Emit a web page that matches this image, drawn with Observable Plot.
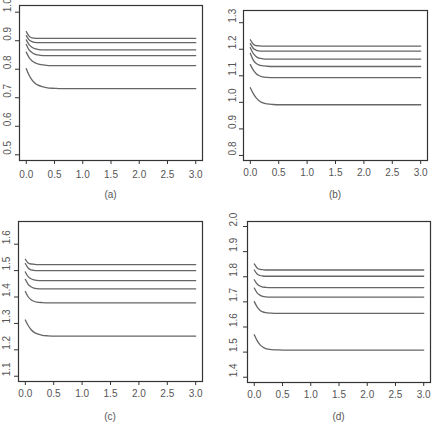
<!DOCTYPE html>
<html><head><meta charset="utf-8">
<script src="https://cdn.jsdelivr.net/npm/d3@7"></script>
<script src="https://cdn.jsdelivr.net/npm/@observablehq/plot@0.6"></script>
<style>
body{margin:0;background:#fff;font-family:"Liberation Sans",Arial,sans-serif;}
#root{position:relative;width:436px;height:424px;overflow:hidden;}
.panel{position:absolute;}
.cap{position:absolute;font-size:10px;line-height:12px;color:#555;text-align:center;width:60px;}
</style></head>
<body><div id="root"></div>
<script>
// shared x grid (time) at which curve values were read
const xGrid = [0, 0.05, 0.1, 0.15, 0.2, 0.3, 0.4, 0.5, 0.6, 0.8, 3.0];
const xTicks = [0, 0.5, 1, 1.5, 2, 2.5, 3];

// panel (a)
const a1 = [0.932, 0.916, 0.910, 0.909, 0.908, 0.908, 0.908, 0.908, 0.908, 0.908, 0.908];
const a2 = [0.918, 0.903, 0.897, 0.894, 0.893, 0.893, 0.893, 0.893, 0.893, 0.893, 0.893];
const a3 = [0.903, 0.886, 0.877, 0.872, 0.870, 0.868, 0.868, 0.868, 0.868, 0.868, 0.868];
const a4 = [0.887, 0.868, 0.859, 0.853, 0.850, 0.848, 0.848, 0.848, 0.848, 0.848, 0.848];
const a5 = [0.860, 0.841, 0.830, 0.823, 0.819, 0.815, 0.813, 0.813, 0.813, 0.813, 0.813];
const a6 = [0.802, 0.779, 0.763, 0.752, 0.745, 0.738, 0.734, 0.733, 0.732, 0.732, 0.732];
const aTicks = [0.5, 0.6, 0.7, 0.8, 0.9, 1.0];

// panel (b)
const b1 = [1.236, 1.220, 1.214, 1.213, 1.212, 1.212, 1.212, 1.212, 1.212, 1.212, 1.212];
const b2 = [1.221, 1.204, 1.197, 1.194, 1.193, 1.193, 1.193, 1.193, 1.193, 1.193, 1.193];
const b3 = [1.206, 1.185, 1.173, 1.167, 1.165, 1.163, 1.163, 1.163, 1.163, 1.163, 1.163];
const b4 = [1.185, 1.160, 1.147, 1.141, 1.138, 1.136, 1.135, 1.135, 1.135, 1.135, 1.135];
const b5 = [1.142, 1.122, 1.109, 1.101, 1.097, 1.094, 1.093, 1.093, 1.093, 1.093, 1.093];
const b6 = [1.055, 1.034, 1.018, 1.007, 1.000, 0.994, 0.992, 0.991, 0.991, 0.991, 0.991];
const bTicks = [0.8, 0.9, 1.0, 1.1, 1.2, 1.3];

// panel (c)
const c1 = [1.543, 1.529, 1.525, 1.524, 1.523, 1.523, 1.523, 1.523, 1.523, 1.523, 1.523];
const c2 = [1.527, 1.510, 1.503, 1.501, 1.500, 1.500, 1.500, 1.500, 1.500, 1.500, 1.500];
const c3 = [1.495, 1.477, 1.469, 1.465, 1.463, 1.462, 1.462, 1.462, 1.462, 1.462, 1.462];
const c4 = [1.467, 1.448, 1.439, 1.434, 1.432, 1.431, 1.431, 1.431, 1.431, 1.431, 1.431];
const c5 = [1.421, 1.401, 1.390, 1.384, 1.381, 1.379, 1.378, 1.378, 1.378, 1.378, 1.378];
const c6 = [1.313, 1.292, 1.277, 1.267, 1.261, 1.255, 1.253, 1.252, 1.252, 1.252, 1.252];
const cTicks = [1.1, 1.2, 1.3, 1.4, 1.5, 1.6];

// panel (d)
const d1 = [1.851, 1.835, 1.829, 1.828, 1.827, 1.827, 1.827, 1.827, 1.827, 1.827, 1.827];
const d2 = [1.827, 1.811, 1.805, 1.803, 1.802, 1.802, 1.802, 1.802, 1.802, 1.802, 1.802];
const d3 = [1.788, 1.771, 1.763, 1.759, 1.758, 1.757, 1.757, 1.757, 1.757, 1.757, 1.757];
const d4 = [1.755, 1.736, 1.727, 1.722, 1.720, 1.719, 1.719, 1.719, 1.719, 1.719, 1.719];
const d5 = [1.701, 1.680, 1.667, 1.660, 1.657, 1.655, 1.654, 1.654, 1.654, 1.654, 1.654];
const d6 = [1.569, 1.546, 1.530, 1.520, 1.514, 1.510, 1.509, 1.508, 1.508, 1.508, 1.508];
const dTicks = [1.4, 1.5, 1.6, 1.7, 1.8, 1.9, 2.0];

const captions = ["(a)", "(b)", "(c)", "(d)"];

function rowsOf(series) {
  const rows = [];
  series.forEach((vals, k) => vals.forEach((v, i) => rows.push({series: k, x: xGrid[i], y: v})));
  return rows;
}

const root = document.getElementById("root");
const layouts = [
  {series: [a1,a2,a3,a4,a5,a6], ticks: aTicks, yDomain: [0.48, 1.0235], left: 0, top: 0, h: 185, mL: 19, mR: 16, mT: 5, mB: 25, pad: 6, dx: -12, capTop: 189},
  {series: [b1,b2,b3,b4,b5,b6], ticks: bTicks, yDomain: [0.781, 1.346], left: 218, top: 0, h: 185, mL: 25, mR: 9, mT: 10, mB: 25, pad: 4, dx: -11, capTop: 189},
  {series: [c1,c2,c3,c4,c5,c6], ticks: cTicks, yDomain: [1.08, 1.686], left: 0, top: 212, h: 190, mL: 18, mR: 16, mT: 9, mB: 21, pad: 4, dx: -12, capTop: 411},
  {series: [d1,d2,d3,d4,d5,d6], ticks: dTicks, yDomain: [1.379, 2.02], left: 218, top: 212, h: 190, mL: 29, mR: 6, mT: 9, mB: 20, pad: 4, dx: -14, capTop: 411}
];

layouts.forEach((L, idx) => {
  const chart = Plot.plot({
    width: 218, height: L.h,
    marginLeft: L.mL, marginRight: L.mR, marginTop: L.mT, marginBottom: L.mB,
    style: {fontFamily: "'Liberation Sans', Arial, sans-serif", fontSize: "10px", color: "#555", background: "transparent"},
    x: {domain: [-0.12, 3.12], label: null},
    y: {domain: L.yDomain, label: null},
    marks: [
      Plot.axisX({ticks: xTicks, tickSize: 4, tickPadding: L.pad, tickFormat: d => d.toFixed(1), label: null, stroke: "#333", fill: "#555"}),
      Plot.axisY({ticks: L.ticks, tickSize: 4, tickFormat: () => "", label: null, stroke: "#333"}),
      Plot.text(L.ticks, {y: d => d, text: d => d.toFixed(1), frameAnchor: "left", dx: L.dx, rotate: -90, fill: "#555", fontSize: 10}),
      Plot.line(rowsOf(L.series), {x: "x", y: "y", z: "series", stroke: "#666", strokeWidth: 1.3, curve: "monotone-x"}),
      Plot.frame({stroke: "#333", strokeWidth: 1.2})
    ]
  });
  const div = document.createElement("div");
  div.className = "panel";
  div.style.left = L.left + "px";
  div.style.top = L.top + "px";
  div.appendChild(chart);
  root.appendChild(div);
  const cap = document.createElement("div");
  cap.className = "cap";
  cap.textContent = captions[idx];
  const cx = L.left + L.mL + (218 - L.mL - L.mR) / 2;
  cap.style.left = (cx - 30) + "px";
  cap.style.top = L.capTop + "px";
  root.appendChild(cap);
});
</script>
</body></html>
